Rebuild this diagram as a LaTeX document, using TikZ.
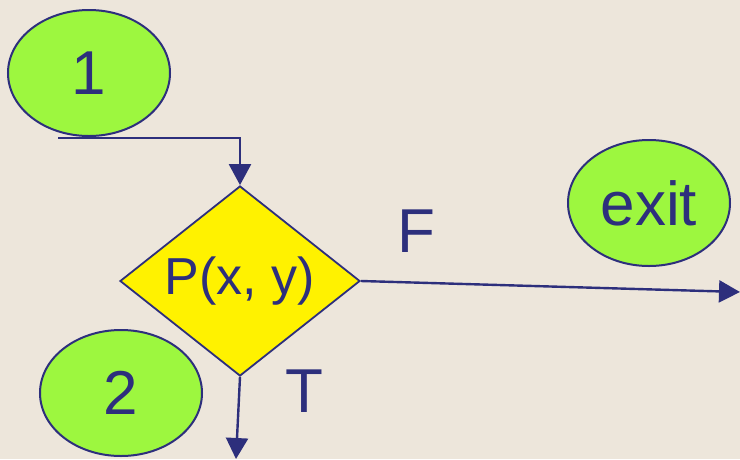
\documentclass[tikz,border=0pt]{standalone}
\usepackage{fontspec}
\setmainfont{Liberation Sans}
\usetikzlibrary{shapes.geometric,arrows.meta}
\definecolor{navy}{HTML}{2D2F7C}
\definecolor{lgreen}{HTML}{9DF73F}
\definecolor{bg}{HTML}{EDE6DB}
\tikzset{
  oval/.style={ellipse, draw=navy, line width=2pt, fill=lgreen, text=navy, inner sep=0pt, minimum width=162pt, minimum height=126pt, font=\fontsize{62}{70}\selectfont},
  decision/.style={diamond, draw=navy, line width=1.8pt, fill=yellow, text=navy, inner sep=0pt, aspect=1.26, font=\fontsize{52}{58}\selectfont},
  lbl/.style={text=navy, inner sep=0pt, font=\fontsize{62}{70}\selectfont},
  conn/.style={draw=navy, line width=2.4pt, -{Triangle[length=21pt,width=22pt]}}
}
\begin{document}
\begin{tikzpicture}[x=1pt,y=-1pt]
\fill[bg] (0,0) rectangle (740,459);
\useasboundingbox (0,0) rectangle (740,459);
\node[oval] (one) at (89,73) {1};
\node[oval] (exit) at (649,203) {exit};
\node[oval] (two) at (121,393) {2};
\node[decision, minimum width=240pt, minimum height=190pt] (d) at (240,281) {P(x, y)};
\node[lbl] (F) at (416,231) {F};
\node[lbl] (T) at (304,391) {T};
\coordinate (start) at (58,138);
\coordinate (bend) at (240,138);
\coordinate (fend) at (740,292);
\coordinate (tend) at (236,459);
\draw[conn] (start) -- (bend) -- (d.north);
\draw[conn] (d.east) -- (fend);
\draw[conn] (d.south) -- (tend);
\end{tikzpicture}
\end{document}
